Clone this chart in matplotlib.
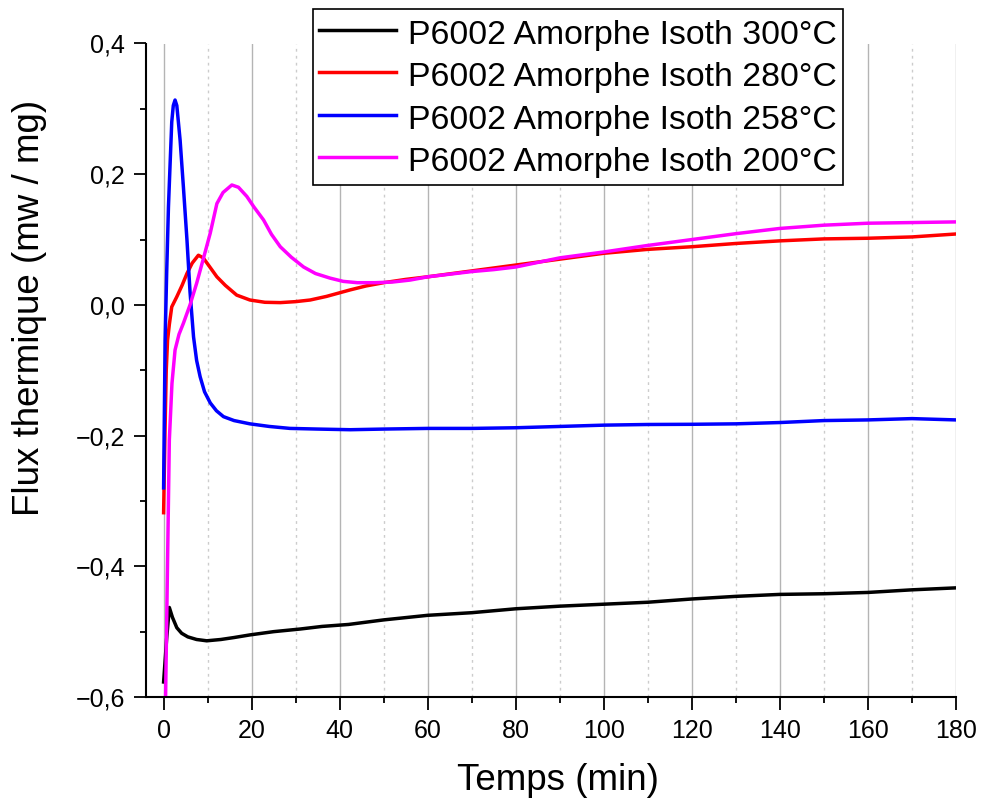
import matplotlib
matplotlib.use("Agg")
import matplotlib.pyplot as plt
from matplotlib.ticker import MultipleLocator, FuncFormatter

plt.rcParams['font.family'] = ['Liberation Sans', 'DejaVu Sans']

# ---- data ----
t_300 = [0, 0.7, 1.3, 2.0, 3.0, 4.1, 5.5, 7.5, 9.8, 13, 16, 19.6, 25, 31, 36, 42, 50, 60,
         70, 80, 90, 100, 110, 120, 130, 140, 150, 160, 170, 180]
y_300 = [-0.577, -0.51, -0.463, -0.478, -0.494, -0.5025, -0.508, -0.512, -0.514, -0.512,
         -0.509, -0.505, -0.500, -0.496, -0.492, -0.489, -0.482, -0.475, -0.471, -0.465,
         -0.461, -0.458, -0.455, -0.450, -0.446, -0.443, -0.442, -0.440, -0.436, -0.433]

t_280 = [0, 0.3, 0.6, 0.9, 1.3, 1.85, 3.0, 4.2, 5.3, 6.5, 7.9, 9.0, 10.5, 12.1, 14, 16.6,
         19.6, 23, 26.5, 30, 33.3, 37, 42.4, 46, 50, 55, 60, 70, 80, 90, 100, 110, 120,
         130, 140, 150, 160, 170, 180]
y_280 = [-0.318, -0.2, -0.1, -0.054, -0.03, -0.003, 0.0125, 0.03, 0.048, 0.064, 0.076,
         0.072, 0.058, 0.043, 0.03, 0.015, 0.0075, 0.004, 0.0035, 0.005, 0.0075, 0.013,
         0.023, 0.029, 0.034, 0.039, 0.043, 0.052, 0.061, 0.070, 0.079, 0.085, 0.089,
         0.094, 0.098, 0.101, 0.102, 0.104, 0.1085]

t_258 = [0, 0.34, 0.7, 1.1, 1.5, 1.85, 2.2, 2.6, 3.0, 3.75, 4.5, 5.3, 6.0, 6.8, 7.5, 8.3,
         9.3, 10.6, 12, 13.6, 16, 19.6, 24, 28.7, 35, 42.4, 50, 60, 70, 80, 90, 100, 110,
         120, 130, 140, 150, 160, 170, 180]
y_258 = [-0.28, -0.054, 0.05, 0.15, 0.22, 0.28, 0.305, 0.3135, 0.305, 0.252, 0.18, 0.1,
         0.02, -0.049, -0.085, -0.11, -0.133, -0.15, -0.162, -0.171, -0.177, -0.182,
         -0.186, -0.189, -0.190, -0.191, -0.190, -0.189, -0.189, -0.188, -0.186, -0.184,
         -0.183, -0.1827, -0.182, -0.180, -0.177, -0.176, -0.174, -0.176]

t_200 = [0.45, 1.3, 1.9, 2.6, 3.5, 4.5, 6.0, 7.5, 9.0, 10.6, 12.1, 13.5, 15.5, 17, 18.9,
         20.5, 22.7, 24.5, 26.5, 29, 31.8, 34.5, 37.8, 40.8, 44, 48, 52, 56, 60, 65, 70,
         75, 80, 90, 100, 110, 120, 130, 140, 150, 160, 170, 180]
y_200 = [-0.6, -0.207, -0.12, -0.069, -0.045, -0.028, 0.0, 0.033, 0.07, 0.11, 0.155,
         0.172, 0.1835, 0.18, 0.166, 0.15, 0.13, 0.108, 0.089, 0.073, 0.058, 0.048, 0.041,
         0.036, 0.034, 0.034, 0.035, 0.038, 0.043, 0.047, 0.051, 0.054, 0.058, 0.072,
         0.081, 0.091, 0.100, 0.109, 0.117, 0.122, 0.125, 0.126, 0.127]

labels = ["P6002 Amorphe Isoth 300°C", "P6002 Amorphe Isoth 280°C",
          "P6002 Amorphe Isoth 258°C", "P6002 Amorphe Isoth 200°C"]
colors = ["#000000", "#ff0000", "#0000ff", "#ff00ff"]
series = [(t_300, y_300), (t_280, y_280), (t_258, y_258), (t_200, y_200)]

fig = plt.figure(figsize=(9.83, 7.98), dpi=100)
ax = fig.add_axes([146 / 983, 101 / 798, 810 / 983, 653.5 / 798])

for (t, y), lab, c in zip(series, labels, colors):
    ax.plot(t, y, color=c, lw=2.5, label=lab, solid_joinstyle='round')

ax.set_xlim(-4, 180)
ax.set_ylim(-0.6, 0.4)
ax.xaxis.set_major_locator(MultipleLocator(20))
ax.xaxis.set_minor_locator(MultipleLocator(10))
ax.yaxis.set_major_locator(MultipleLocator(0.2))
ax.yaxis.set_minor_locator(MultipleLocator(0.1))


def yfmt(v, p):
    s = "%.1f" % v
    if s == "-0.0":
        s = "0.0"
    return s.replace('.', ',').replace('-', '\u2212')


ax.yaxis.set_major_formatter(FuncFormatter(yfmt))

ax.grid(True, which='major', axis='x', color='#b4b4b4', lw=1.0, ls='-')
ax.grid(True, which='minor', axis='x', color='#cccccc', lw=1.0, ls=(0, (2, 3)))
for tk in ax.xaxis.get_major_ticks():
    if abs(tk.get_loc() - 180) < 1e-6:
        tk.gridline.set_visible(False)
ax.set_axisbelow(True)

for s in ['top', 'right']:
    ax.spines[s].set_visible(False)
for s in ['left', 'bottom']:
    ax.spines[s].set_linewidth(1.5)

ax.tick_params(axis='both', which='major', direction='out', length=9, width=1.3,
               labelsize=18)
ax.tick_params(axis='x', which='major', pad=7)
ax.tick_params(axis='y', which='major', pad=6)
ax.tick_params(axis='both', which='minor', direction='out', length=4.5, width=1.3)

fig.text(557.5 / 983, 1 - 790 / 798, "Temps (min)", fontsize=26.5,
         ha='center', va='baseline')
fig.text(30 / 983, 1 - 308 / 798, "Flux thermique (mw / mg)", fontsize=26.5,
         ha='center', va='center', rotation=90)

leg = fig.legend(loc='upper left', bbox_to_anchor=(313 / 983, 1 - 9 / 798),
                 fontsize=24.3, frameon=True, fancybox=False, edgecolor='black',
                 framealpha=1, borderpad=0.19, labelspacing=0.22, handlelength=2.27,
                 handleheight=1.15, handletextpad=0.35, borderaxespad=0)
leg.get_frame().set_linewidth(1.2)

fig.savefig("out.png", dpi=100)
